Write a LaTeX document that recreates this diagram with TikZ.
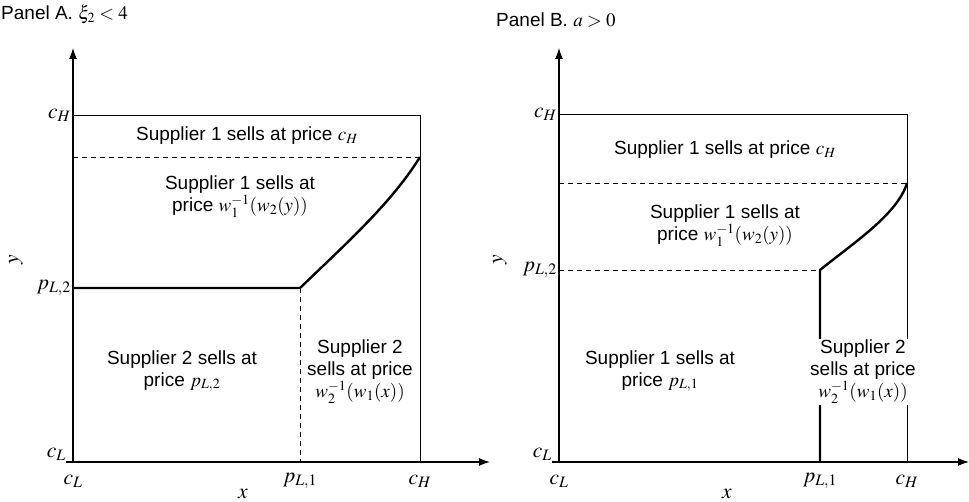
\documentclass[tikz,border=0pt]{standalone}
\usepackage{mathptmx}
\usepackage{fontspec}
\setmainfont{Liberation Sans}
\usetikzlibrary{positioning,arrows.meta}

\begin{document}
\begin{tikzpicture}[
    x=1pt,y=1pt,
    lbl/.style={font=\fontsize{19}{22}\selectfont,align=center,inner sep=1pt},
    tick/.style={font=\fontsize{21.5}{23}\selectfont,inner sep=2pt},
    axis/.style={-{Latex[length=11pt,width=8pt]},line width=1.1pt},
    frame/.style={line width=0.9pt},
    bound/.style={line width=2.4pt},
    guide/.style={line width=0.8pt,dash pattern=on 5pt off 4pt}
  ]
  \useasboundingbox (0,0) rectangle (969,502);

  % Panel A
  \node[lbl,anchor=base west] (titleA) at (0,482) {Panel A. $\xi_2<4$};
  \coordinate (oA) at (73,40);
  \coordinate (xA0) at (66,40);
  \coordinate (xA1) at (490,40);
  \coordinate (yA1) at (73,454);
  \coordinate (hA) at (73,387);
  \coordinate (hhA) at (420,387);
  \coordinate (rA) at (420,40);
  \coordinate (dA0) at (73,345);
  \coordinate (dA1) at (420,345);
  \coordinate (pA0) at (73,214);
  \coordinate (kA) at (300,214);
  \coordinate (kA0) at (300,40);

  \draw[axis] (xA0) -- (xA1);
  \draw[axis] (oA) -- (yA1);
  \draw[frame] (hA) -- (hhA) -- (rA);
  \draw[guide] (dA0) -- (dA1);
  \draw[guide] (kA) -- (kA0);
  \draw[bound] (pA0) -- (kA) .. controls (350,262) and (392,300) .. (dA1);

  \node[tick,anchor=east] (cHyA) at (hA) {$c_H$};
  \node[tick,anchor=east] (pyA) at (pA0) {$p_{L,2}$};
  \node[tick,anchor=east] (cLyA) at (68,48) {$c_L$};
  \node[tick] (cLxA) at (73,21) {$c_L$};
  \node[tick] (pxA) at (300,21) {$p_{L,1}$};
  \node[tick] (cHxA) at (420,21) {$c_H$};
  \node[tick] (xlabA) at (243,8) {$x$};
  \node[tick,rotate=90] (ylabA) at (16,242) {$y$};

  \node[lbl] (topA) at (247,366) {Supplier 1 sells at price $c_H$};
  \node[lbl] (midA) at (240,305) {Supplier 1 sells at\\price $w_1^{-1}(w_2(y))$};
  \node[lbl] (lowA) at (182,131) {Supplier 2 sells at\\price $p_{L,2}$};
  \node[lbl] (rgtA) at (360,130) {Supplier 2\\sells at price\\$w_2^{-1}(w_1(x))$};

  % Panel B
  \node[lbl,anchor=base west] (titleB) at (495,475) {Panel B. $a>0$};
  \coordinate (oB) at (559,40);
  \coordinate (xB0) at (552,40);
  \coordinate (xB1) at (969,40);
  \coordinate (yB1) at (559,454);
  \coordinate (hB) at (559,388);
  \coordinate (hhB) at (907,388);
  \coordinate (rB) at (907,40);
  \coordinate (dB0) at (559,319);
  \coordinate (dB1) at (907,319);
  \coordinate (pB0) at (559,232);
  \coordinate (kB) at (820,232);
  \coordinate (kB0) at (820,40);

  \draw[axis] (xB0) -- (xB1);
  \draw[axis] (oB) -- (yB1);
  \draw[frame] (hB) -- (hhB) -- (rB);
  \draw[guide] (dB0) -- (dB1);
  \draw[guide] (pB0) -- (kB);
  \draw[bound] (kB0) -- (kB) .. controls (852,258) and (898,288) .. (dB1);

  \node[tick,anchor=east] (cHyB) at (hB) {$c_H$};
  \node[tick,anchor=east] (pyB) at (pB0) {$p_{L,2}$};
  \node[tick,anchor=east] (cLyB) at (554,48) {$c_L$};
  \node[tick] (cLxB) at (559,21) {$c_L$};
  \node[tick] (pxB) at (820,21) {$p_{L,1}$};
  \node[tick] (cHxB) at (907,21) {$c_H$};
  \node[tick] (xlabB) at (727,8) {$x$};
  \node[tick,rotate=90] (ylabB) at (500,242) {$y$};

  \node[lbl] (topB) at (725,352) {Supplier 1 sells at price $c_H$};
  \node[lbl] (midB) at (725,276) {Supplier 1 sells at\\price $w_1^{-1}(w_2(y))$};
  \node[lbl] (lowB) at (660,131) {Supplier 1 sells at\\price $p_{L,1}$};
  \node[lbl,fill=white] (rgtB) at (863,130) {Supplier 2\\sells at price\\$w_2^{-1}(w_1(x))$};
\end{tikzpicture}
\end{document}
